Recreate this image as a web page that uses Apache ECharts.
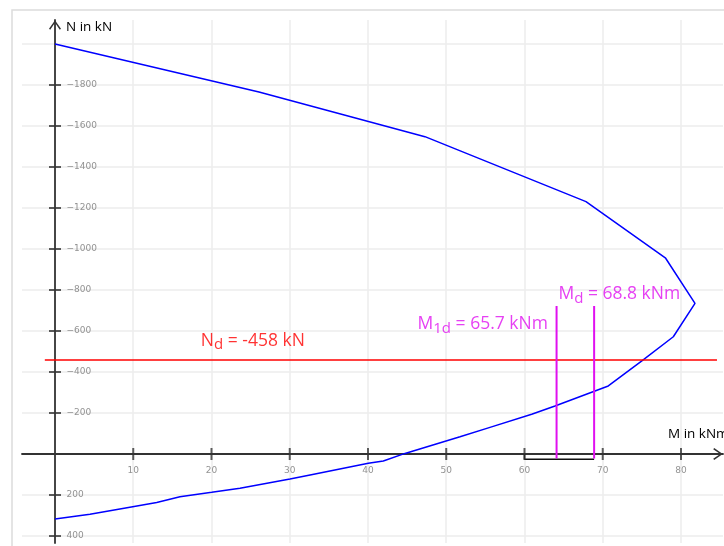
<!DOCTYPE html>
<html><head><meta charset="utf-8">
<script src="https://cdn.jsdelivr.net/npm/echarts@6/dist/echarts.min.js"></script>
<style>html,body{margin:0;padding:0;background:#fff}#c{width:724px;height:546px}</style>
</head><body><div id="c"></div>
<script>
// ---- data ----
const curveM = [0, 26.07, 47.28, 67.86, 78.04, 81.79, 79.02, 75.0, 70.71, 63.9, 60.92, 55.59, 51.76, 44.73, 41.96, 40.04, 32.6, 30.03, 23.64, 20.03, 15.97, 13.0, 9.93, 4.47, 0];
const curveN = [-2000, -1766, -1548, -1231, -955, -735, -572, -454, -332, -234, -194, -130, -84, -3, 34, 45, 102, 122, 167, 187, 208, 236, 257, 294, 317];
const xGridValues = [0, 10, 20, 30, 40, 50, 60, 70, 80];
const yGridValues = [-2000, -1800, -1600, -1400, -1200, -1000, -800, -600, -400, -200, 0, 200, 400];
const xTickLabels = [10, 20, 30, 40, 50, 60, 70, 80];
const yTickLabels = [-1800, -1600, -1400, -1200, -1000, -800, -600, -400, -200, 200, 400];
const Nd = -458;
const ndLineM = [-1.3, 84.6];
const Md = 68.8;
const M1d = 65.7;
const mdLineM = 68.9;
const m1dLineM = 64.1;
const momentLineN = [-722, 22];
const bracketM = [60, 60, 68.9];
const bracketN = [0, 26, 26];

const MAG = '#e010f0';
const arrowPath = 'path://M6,0 L12,8.6 L10.8,9.6 L6,2.6 L1.2,9.6 L0,8.6 Z';
const fmtY = v => v < 0 ? '\u2212' + Math.abs(v) : String(v);

function richLabel(color) {
  return {
    t: {fontFamily: 'Open Sans', fontSize: 17.5, lineHeight: 20, color: color},
    s: {fontFamily: 'Open Sans', fontSize: 15, lineHeight: 20, padding: [9, 0, 0, 0], color: color}
  };
}
const tickLabelStyle = {show: true, color: '#777', fontFamily: 'DejaVu Sans', fontSize: 9};

const chart = echarts.init(document.getElementById('c'), null, {renderer: 'canvas'});
const axisLineStyle = {color: '#333', width: 1.8};
chart.setOption({
  animation: false,
  backgroundColor: '#fff',
  grid: {left: 22, right: 1, top: 20, bottom: 3, containLabel: false, outerBoundsMode: 'none'},
  xAxis: {
    type: 'value', min: -4.217, max: 85.37,
    axisLine: {show: true, onZero: true, lineStyle: axisLineStyle, symbol: ['none', arrowPath], symbolSize: [12, 10], symbolOffset: [0, -5]},
    axisTick: {show: false, customValues: xGridValues},
    axisLabel: {show: false},
    splitLine: {show: true, lineStyle: {color: '#ececec', width: 1.5}}
  },
  yAxis: {
    type: 'value', inverse: true, min: -2117, max: 434,
    axisLine: {show: true, onZero: true, lineStyle: axisLineStyle, symbol: ['none', arrowPath], symbolSize: [12, 10], symbolOffset: [0, -5]},
    axisTick: {show: false, customValues: yGridValues},
    axisLabel: {show: false},
    splitLine: {show: true, lineStyle: {color: '#ececec', width: 1.5}}
  },
  graphic: [
    {type: 'rect', z: -1, shape: {x: 12, y: 10, width: 800, height: 600}, style: {fill: 'none', stroke: '#dcdcdc', lineWidth: 1.5}},
    {type: 'text', left: 66, top: 20, style: {text: 'N in kN', fontFamily: 'Open Sans', fontSize: 13.5, fill: '#000'}},
    {type: 'text', left: 668, top: 427, style: {text: 'M in kNm', fontFamily: 'Open Sans', fontSize: 13.5, fill: '#000'}}
  ],
  series: [
    {type: 'line', name: 'interaction', data: curveM.map((m, i) => [m, curveN[i]]), symbol: 'none', lineStyle: {color: '#0000ff', width: 1.5}, z: 3},
    {type: 'line', name: 'Nd', data: ndLineM.map(m => [m, Nd]), symbol: 'none', lineStyle: {color: '#ff0000', width: 1.5}, z: 4},
    {type: 'line', name: 'M1d', data: momentLineN.map(n => [m1dLineM, n]), symbol: 'none', lineStyle: {color: MAG, width: 2}, z: 5},
    {type: 'line', name: 'Md', data: momentLineN.map(n => [mdLineM, n]), symbol: 'none', lineStyle: {color: MAG, width: 2}, z: 5},
    {type: 'line', name: 'bracket', data: bracketM.map((m, i) => [m, bracketN[i]]), symbol: 'none', lineStyle: {color: '#111', width: 1.5}, z: 4},
    {type: 'scatter', name: 'xticks', silent: true, data: xTickLabels.map(v => [v, 0]), symbol: 'rect', symbolSize: [2, 12], itemStyle: {color: '#333'}, z: 6,
      label: Object.assign({position: 'bottom', distance: 6, formatter: p => String(p.value[0])}, tickLabelStyle)},
    {type: 'scatter', name: 'yticks', silent: true, data: yTickLabels.map(v => [0, v]), symbol: 'rect', symbolSize: [12, 2], itemStyle: {color: '#333'}, z: 6,
      label: Object.assign({position: 'right', distance: 5.5, formatter: p => fmtY(p.value[1])}, tickLabelStyle)},
    {type: 'scatter', name: 'annotations', silent: true, symbolSize: 0, z: 7,
      data: [
        {value: [ndLineM[0], Nd], label: {show: true, position: [156, -29.6], align: 'left', verticalAlign: 'top',
          formatter: '{t|N}{s|d}{t| = ' + Nd + ' kN}', rich: richLabel('#ff0000')}},
        {value: [mdLineM, momentLineN[0]], label: {show: true, position: [-35.7, -21.5], align: 'left', verticalAlign: 'top',
          formatter: '{t|M}{s|d}{t| = ' + Md + ' kNm}', rich: richLabel(MAG)}},
        {value: [m1dLineM, momentLineN[0]], label: {show: true, position: [-8.7, 8.5], align: 'right', verticalAlign: 'top',
          formatter: '{t|M}{s|1d}{t| = ' + M1d + ' kNm}', rich: richLabel(MAG)}}
      ]}
  ]
});
</script></body></html>
